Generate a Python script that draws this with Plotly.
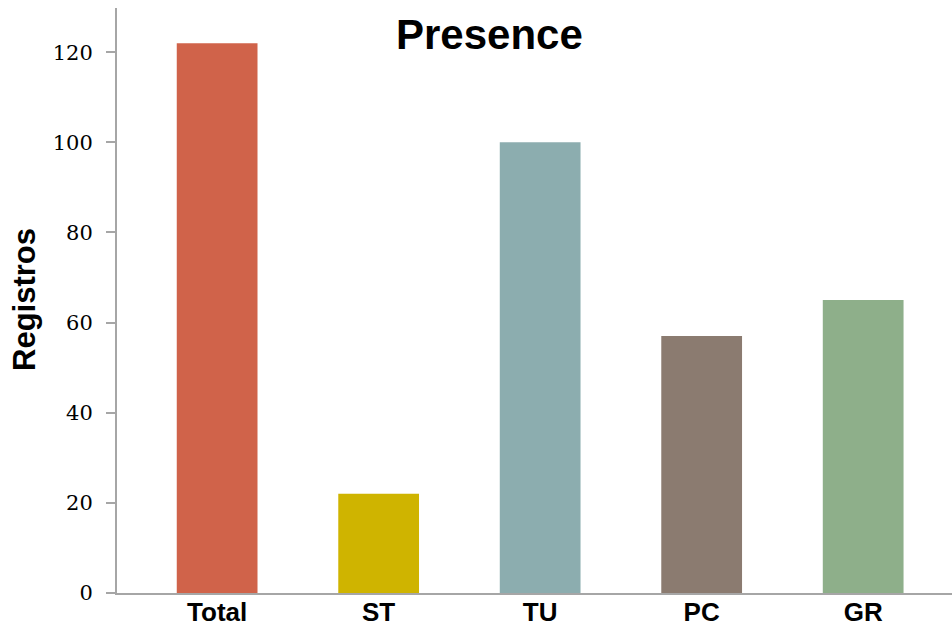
import plotly.graph_objects as go

categories = ["Total", "ST", "TU", "PC", "GR"]
registros = [122, 22, 100, 57, 65]
bar_colors = ["#D0634A", "#CFB400", "#8CADAF", "#8B7B70", "#8EAF8A"]
y_ticks = [0, 20, 40, 60, 80, 100, 120]

W, H = 952, 628
ml, mr, mt, mb = 117, 0, 8, 35

fig = go.Figure(
    go.Bar(
        x=list(range(len(categories))),
        y=registros,
        marker=dict(color=bar_colors, line=dict(width=0)),
        width=0.5,
        hoverinfo="skip",
    )
)

fig.update_layout(
    width=W,
    height=H,
    margin=dict(l=ml, r=mr, t=mt, b=mb, autoexpand=False),
    paper_bgcolor="white",
    plot_bgcolor="white",
    showlegend=False,
    xaxis=dict(
        range=[-0.62, 4.55],
        tickmode="array",
        tickvals=list(range(len(categories))),
        ticktext=[f"<b>{c}</b>" for c in categories],
        tickfont=dict(family="Liberation Sans, Arial", size=26, color="black"),
        showgrid=False,
        zeroline=False,
        showline=True,
        linecolor="#A6A6A6",
        linewidth=2,
        ticks="",
        ticklabelstandoff=-5,
        automargin=False,
    ),
    yaxis=dict(
        range=[0, 129.8],
        tickmode="array",
        tickvals=y_ticks,
        tickfont=dict(family="DejaVu Serif, Georgia, serif", size=21, color="black"),
        showgrid=False,
        zeroline=False,
        showline=True,
        linecolor="#A6A6A6",
        linewidth=2,
        ticks="outside",
        ticklen=9,
        tickwidth=2,
        tickcolor="#A6A6A6",
        ticklabelstandoff=9,
        automargin=False,
    ),
    annotations=[
        dict(
            text="<b>Presence</b>",
            x=489, y=H - 35,
            xref="paper", yref="paper",
            showarrow=False,
            font=dict(family="Liberation Sans, Arial", size=42, color="black"),
        ),
        dict(
            text="<b>Registros</b>",
            textangle=-90,
            x=24, y=H - 300,
            xref="paper", yref="paper",
            showarrow=False,
            font=dict(family="Liberation Sans, Arial", size=31, color="black"),
        ),
    ],
)

# convert the pixel-based annotation positions to paper coordinates
pw, ph = W - ml - mr, H - mt - mb
for a in fig.layout.annotations:
    a.x = (a.x - ml) / pw
    a.y = (a.y - mb) / ph
    a.xanchor = "center"
    a.yanchor = "middle"

fig.write_html("out.html")
